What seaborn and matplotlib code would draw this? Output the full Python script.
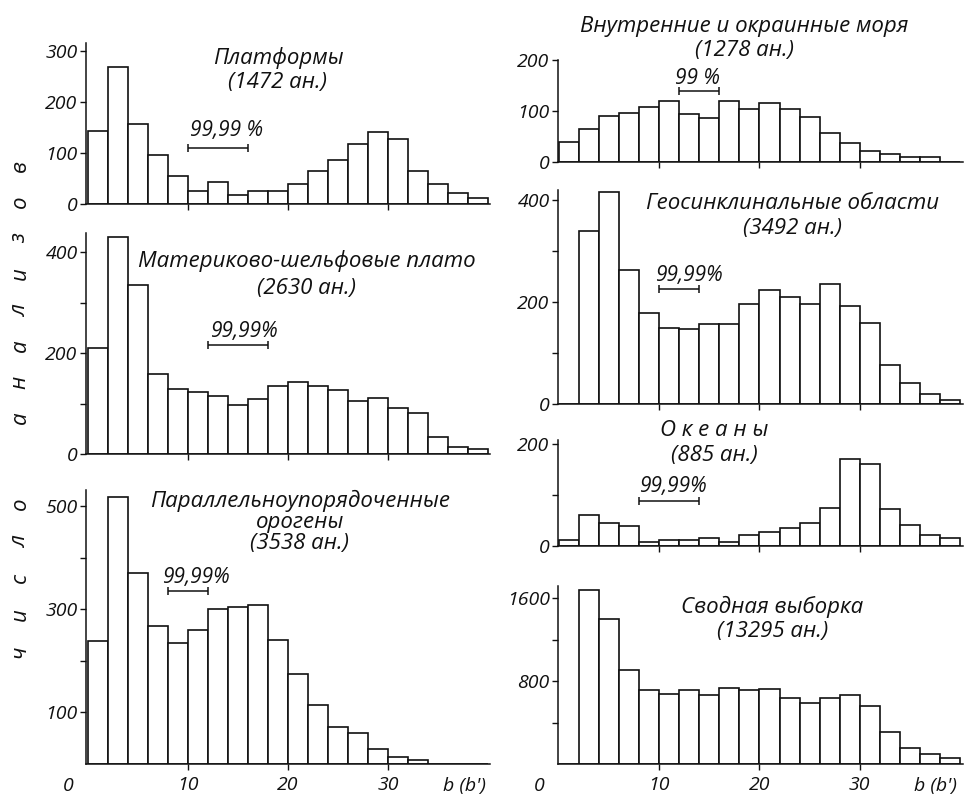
import numpy as np
import matplotlib
matplotlib.use("Agg")
import matplotlib.pyplot as plt
import seaborn as sns

# Class boundaries of b (b'), two units wide
bin_edges = list(range(0, 42, 2))

# Number of analyses in each class, per tectonic setting
platforms = [144, 269, 157, 96, 54, 26, 44, 18, 26, 26, 39, 65, 86, 118, 142, 127, 65, 39, 21, 11]
shelf = [210, 431, 334, 159, 129, 122, 115, 98, 109, 134, 143, 134, 127, 106, 111, 91, 81, 33, 14, 9]
orogens = [239, 518, 371, 267, 235, 261, 301, 305, 308, 241, 175, 114, 72, 60, 29, 13, 8, 0, 0, 0]
seas = [39, 64, 90, 96, 107, 120, 94, 86, 120, 104, 115, 103, 88, 57, 37, 22, 15, 9, 9, 0]
geosyn = [0, 340, 416, 263, 178, 150, 148, 157, 157, 197, 224, 210, 196, 235, 192, 158, 76, 42, 19, 8]
oceans = [12, 60, 46, 40, 8, 12, 12, 16, 8, 22, 27, 35, 46, 74, 170, 161, 73, 42, 22, 16]
total = [0, 1681, 1397, 908, 715, 673, 715, 667, 737, 715, 721, 641, 592, 641, 663, 560, 312, 158, 97, 61]

titles = [
    "Платформы\n(1472 ан.)",
    "Материково-шельфовые плато\n(2630 ан.)",
    "Параллельноупорядоченные\nорогены\n(3538 ан.)",
    "Внутренние и окраинные моря\n(1278 ан.)",
    "Геосинклинальные области\n(3492 ан.)",
    "О к е а н ы\n(885 ан.)",
    "Сводная выборка\n(13295 ан.)",
]

# Confidence intervals: (low, high, level) and their labels
ci_lo = [10, 12, 8, 12, 10, 8, None]
ci_hi = [16, 18, 12, 16, 14, 14, None]
ci_level = [110, 216, 336, 140, 225, 88, None]
ci_labels = ["99,99 %", "99,99%", "99,99%", "99 %", "99,99%", "99,99%", None]

x_ticks = [10, 20, 30]
x_ticklabels = ["10", "20", "30"]
y_label = "число анализов"

sns.set_style("ticks")
plt.rcParams["font.family"] = ["Open Sans", "DejaVu Sans"]
plt.rcParams["font.style"] = "italic"
plt.rcParams["font.weight"] = "normal"
plt.rcParams["axes.linewidth"] = 1.1

W, H = 965, 796
fig = plt.figure(figsize=(W / 100, H / 100), dpi=100)
fig.patch.set_facecolor("white")


def make_axes(left, right, top, bottom):
    return fig.add_axes([left / W, 1 - bottom / H, (right - left) / W, (bottom - top) / H])


left_x = (-0.2, 40.2)
right_x = (-0.1, 40.3)

layout = [
    dict(counts=platforms, box=(86, 490, 43, 204), xlim=left_x, ytop=316,
         yticks=[0, 100, 200, 300], ylab=[0, 100, 200, 300],
         title_xy=(19.0, 263), ls=1.2, ci_xy=(13.9, 145), bottom=False),
    dict(counts=shelf, box=(86, 490, 233, 454), xlim=left_x, ytop=438,
         yticks=[0, 100, 200, 300, 400], ylab=[0, 200, 400],
         title_xy=(21.9, 356), ls=1.4, ci_xy=(15.6, 242), bottom=False),
    dict(counts=orogens, box=(86, 490, 490, 764), xlim=left_x, ytop=532,
         yticks=[100, 200, 300, 400, 500], ylab=[100, 300, 500],
         title_xy=(21.2, 470), ls=1.0, ci_xy=(10.8, 363), bottom=True),
    dict(counts=seas, box=(558, 963, 60, 162), xlim=right_x, ytop=196,
         yticks=[0, 100, 200], ylab=[0, 100, 200],
         title_xy=(18.5, 242), ls=1.2, ci_xy=(13.8, 163), bottom=False),
    dict(counts=geosyn, box=(558, 963, 190, 404), xlim=right_x, ytop=420,
         yticks=[0, 100, 200, 300, 400], ylab=[0, 200, 400],
         title_xy=(23.3, 369), ls=1.2, ci_xy=(13.0, 253), bottom=False),
    dict(counts=oceans, box=(558, 963, 440, 546), xlim=right_x, ytop=208,
         yticks=[0, 100, 200], ylab=[0, 200],
         title_xy=(15.5, 202), ls=1.2, ci_xy=(11.4, 116), bottom=False),
    dict(counts=total, box=(558, 963, 586, 764), xlim=right_x, ytop=1716,
         yticks=[400, 800, 1200, 1600], ylab=[800, 1600],
         title_xy=(21.3, 1398), ls=1.2, ci_xy=None, bottom=True),
]

centers = (np.array(bin_edges[:-1]) + np.array(bin_edges[1:])) / 2
ink = "#111111"

for i, spec in enumerate(layout):
    ax = make_axes(*spec["box"])
    sns.histplot(x=centers, weights=spec["counts"], bins=bin_edges, ax=ax,
                 color="white", edgecolor=ink, linewidth=1.2, alpha=1)
    ax.set_xlim(*spec["xlim"])
    ax.set_ylim(0, spec["ytop"])
    ax.set_xlabel("")
    ax.set_ylabel("")
    ax.set_facecolor("none")
    sns.despine(ax=ax)
    for s in ("left", "bottom"):
        ax.spines[s].set_color(ink)

    ax.set_yticks(spec["yticks"])
    ax.set_yticklabels([str(v) if v in spec["ylab"] else "" for v in spec["yticks"]])
    ax.set_xticks(x_ticks)
    if spec["bottom"]:
        ax.set_xticklabels(x_ticklabels)
        ax.annotate("0", xy=(0, 0), xycoords="data", xytext=(-20, -22),
                    textcoords="offset pixels", ha="center", va="center",
                    fontsize=14, color=ink, annotation_clip=False)
        ax.annotate("b (b')", xy=(37.6, 0), xycoords="data", xytext=(0, -22),
                    textcoords="offset pixels", ha="center", va="center",
                    fontsize=14, color=ink, annotation_clip=False)
    else:
        ax.set_xticklabels([])
    ax.tick_params(axis="y", direction="out", length=4, width=1, pad=2,
                   labelsize=14, colors=ink)
    ax.tick_params(axis="x", direction="out", length=4, width=1, pad=5,
                   labelsize=14, colors=ink)

    tx, ty = spec["title_xy"]
    ax.text(tx, ty, titles[i], ha="center", va="center", multialignment="center",
            fontsize=16, linespacing=spec["ls"], color=ink, clip_on=False)

    if ci_lo[i] is not None:
        ax.errorbar([(ci_lo[i] + ci_hi[i]) / 2], [ci_level[i]],
                    xerr=[(ci_hi[i] - ci_lo[i]) / 2], fmt="none",
                    ecolor=ink, elinewidth=1.1, capsize=3, capthick=1.1)
        cx, cy = spec["ci_xy"]
        ax.text(cx, cy, ci_labels[i], ha="center", va="center",
                fontsize=15, color=ink)

# Vertical axis caption, letter-spaced, reading upward
words = y_label.split(" ")
start_px = [652, 418]
step_px = [37, 36]
for word, y0, step in zip(words, start_px, step_px):
    for k, ch in enumerate(word):
        fig.text(20 / W, 1 - (y0 - k * step) / H, ch, rotation=90,
                 ha="center", va="center", fontsize=16, color=ink)

fig.savefig("out.png", dpi=100, facecolor="white")
